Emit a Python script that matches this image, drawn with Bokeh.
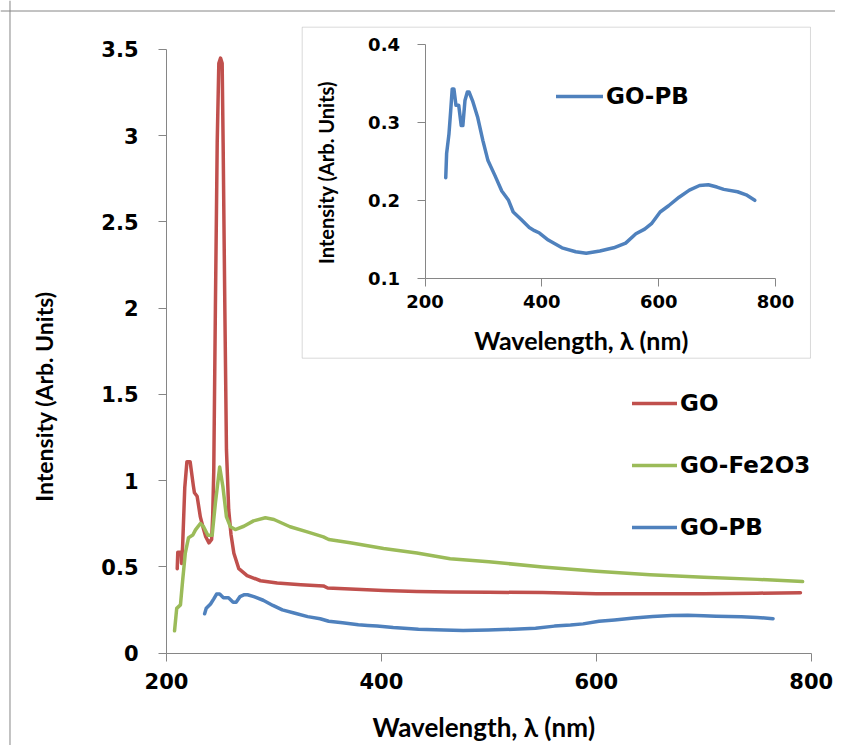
from bokeh.plotting import figure
from bokeh.models import Range1d, LinearAxis, FixedTicker, Legend, LegendItem, BoxAnnotation, Span
from bokeh.embed import file_html
from bokeh.resources import INLINE

# ---------------- data ----------------
go_x = [210, 210.5, 213.5, 214, 215, 217, 219, 222, 225, 226, 228.5, 231.5, 234, 236.5, 239.5,
        242, 243, 244, 245.5, 247.2, 248.7, 250.3, 251.8, 252.7, 254.3, 255.8, 257.9, 260, 262.7,
        267.3, 275, 287.5, 303, 325, 346, 350, 371, 402, 433, 464, 500, 550, 600, 650, 700, 750, 790]
go_y = [0.49, 0.585, 0.585, 0.52, 0.62, 0.96, 1.11, 1.11, 0.97, 0.93, 0.91, 0.79, 0.73, 0.675, 0.64,
        0.66, 0.8, 1.06, 2.0, 2.96, 3.42, 3.45, 3.42, 2.96, 2.0, 1.18, 0.83, 0.69, 0.58,
        0.49, 0.45, 0.42, 0.407, 0.397, 0.39, 0.378, 0.372, 0.364, 0.358, 0.355, 0.353, 0.352, 0.345,
        0.345, 0.345, 0.348, 0.35]

fe_x = [207.5, 209.5, 213, 215, 217.5, 220.5, 224.5, 227, 231.5, 234.5, 238.5, 242.5, 245.5, 249.5,
        252.5, 255.8, 259.5, 264, 272, 281, 292, 300, 315, 331, 346, 351, 371, 402, 433, 464, 500,
        550, 600, 650, 700, 750, 792]
fe_y = [0.13, 0.26, 0.28, 0.42, 0.58, 0.67, 0.685, 0.715, 0.752, 0.733, 0.684, 0.684, 0.87, 1.08,
        0.965, 0.79, 0.733, 0.717, 0.736, 0.767, 0.785, 0.775, 0.733, 0.703, 0.674, 0.659, 0.64,
        0.607, 0.581, 0.548, 0.53, 0.50, 0.475, 0.455, 0.44, 0.428, 0.415]

pb_x = [235.5, 237, 241, 244, 246.6, 249.5, 253, 257.7, 262, 264.8, 268.4, 272.5, 275.4, 281.3, 290,
        299, 307.8, 319.6, 331.4, 343, 351, 363.8, 378.5, 387.4, 396, 411, 434.5, 458, 476, 499.4,
        523, 543.5, 561, 576, 587.7, 602.5, 617, 635, 652.6, 670, 685, 699.7, 711.5, 735, 749.8, 764.5]
pb_y = [0.229, 0.26, 0.285, 0.315, 0.343, 0.343, 0.322, 0.322, 0.296, 0.296, 0.328, 0.339, 0.339,
        0.328, 0.307, 0.277, 0.251, 0.232, 0.212, 0.2, 0.185, 0.176, 0.165, 0.161, 0.158, 0.149,
        0.139, 0.134, 0.132, 0.135, 0.139, 0.145, 0.157, 0.163, 0.17, 0.185, 0.193, 0.204, 0.213,
        0.219, 0.22, 0.217, 0.214, 0.211, 0.207, 0.2]

series_names = ["GO", "GO-Fe2O3", "GO-PB"]

x_ticks = [200, 400, 600, 800]
y_ticks = [0, 0.5, 1, 1.5, 2, 2.5, 3, 3.5]
y_tick_labels = ["0", "0.5", "1", "1.5", "2", "2.5", "3", "3.5"]
inset_x_ticks = [200, 400, 600, 800]
inset_y_ticks = [0.1, 0.2, 0.3, 0.4]
inset_y_tick_labels = ["0.1", "0.2", "0.3", "0.4"]

x_title = "Wavelength, \u03bb (nm)"
y_title = "Intensity (Arb. Units)"

# ---------------- styles ----------------
RED = "#C0504D"
GREEN = "#9BBB59"
BLUE = "#4F81BD"
AX = "#868686"
LW = 3.5

W, H = 835, 745

p = figure(width=W, height=H, output_backend="svg", toolbar_location=None, title=None,
           x_axis_type=None, y_axis_type=None,
           x_range=Range1d(45.51, 822.62), y_range=Range1d(-0.5351, 3.7840),
           min_border=0)
p.outline_line_color = None
p.background_fill_color = "white"
p.border_fill_color = "white"

p.extra_x_ranges = {"ix": Range1d(-526.67, 902.7)}
p.extra_y_ranges = {"iy": Range1d(-0.49987, 0.45649)}


def style_axis(ax, tick_size, standoff):
    ax.axis_line_color = AX
    ax.axis_line_width = 1
    ax.major_tick_line_color = AX
    ax.major_tick_out = 8
    ax.major_tick_in = 0
    ax.minor_tick_line_color = None
    ax.major_label_text_font = "DejaVu Sans"
    ax.major_label_text_font_style = "bold"
    ax.major_label_text_font_size = f"{tick_size}px"
    ax.major_label_text_color = "black"
    ax.major_label_standoff = standoff


def title_axis(text, size, standoff, **kw):
    ax = LinearAxis(ticker=FixedTicker(ticks=[]), axis_label=text, **kw)
    ax.axis_line_color = None
    ax.major_tick_line_color = None
    ax.minor_tick_line_color = None
    ax.major_tick_out = 0
    ax.major_tick_in = 0
    ax.major_label_standoff = 0
    ax.axis_label_text_font = "Lato"
    ax.axis_label_text_font_style = "bold"
    ax.axis_label_text_font_size = f"{size}px"
    ax.axis_label_text_color = "black"
    ax.axis_label_standoff = standoff
    return ax


# main axes
xa = LinearAxis(fixed_location=0, bounds=(200, 800), ticker=FixedTicker(ticks=x_ticks))
style_axis(xa, 21, 12)
p.add_layout(xa, "below")
p.add_layout(title_axis(x_title, 26, 57, fixed_location=0, bounds=(200, 790)), "below")

ya = LinearAxis(fixed_location=200, bounds=(0, 3.5), ticker=FixedTicker(ticks=y_ticks),
                major_label_overrides={t: l for t, l in zip(y_ticks, y_tick_labels)})
style_axis(ya, 21, 20)
p.add_layout(ya, "left")
p.add_layout(title_axis(y_title, 23, 109, fixed_location=200, bounds=(0, 2.976)), "left")

# outer chart border (top and left edges)
p.add_layout(Span(location=3.7231, dimension="width", line_color=AX, line_width=1))
p.add_layout(Span(location=54.35, dimension="height", line_color=AX, line_width=1))

# main curves
r_go = p.line(go_x, go_y, line_color=RED, line_width=LW, line_join="round", line_cap="round")
r_fe = p.line(fe_x, fe_y, line_color=GREEN, line_width=LW, line_join="round", line_cap="round")
r_pb = p.line(pb_x, pb_y, line_color=BLUE, line_width=LW, line_join="round", line_cap="round")

# inset frame
p.add_layout(BoxAnnotation(left=326.29, right=799.35, top=3.6293, bottom=1.7103,
                           fill_color=None, line_color=AX, line_width=1))

# inset curve + axes
r_pb_in = p.line(pb_x, pb_y, x_range_name="ix", y_range_name="iy", line_color=BLUE, line_width=LW,
                 line_join="round", line_cap="round")

ixa = LinearAxis(x_range_name="ix", y_range_name="iy", fixed_location=0.1, bounds=(200, 800),
                 ticker=FixedTicker(ticks=inset_x_ticks))
style_axis(ixa, 18, 9)
p.add_layout(ixa, "below")
p.add_layout(title_axis(x_title, 25, 46, x_range_name="ix", y_range_name="iy",
                        fixed_location=0.1, bounds=(200, 732.4)), "below")

iya = LinearAxis(x_range_name="ix", y_range_name="iy", fixed_location=200, bounds=(0.1, 0.4),
                 ticker=FixedTicker(ticks=inset_y_ticks),
                 major_label_overrides={t: l for t, l in zip(inset_y_ticks, inset_y_tick_labels)})
style_axis(iya, 18, 17)
p.add_layout(iya, "left")
p.add_layout(title_axis(y_title, 20, 88, x_range_name="ix", y_range_name="iy",
                        fixed_location=200, bounds=(0.1, 0.3714)), "left")


def make_legend(items, loc, gw):
    lg = Legend(items=items, location=loc, orientation="vertical")
    lg.label_text_font = "DejaVu Sans"
    lg.label_text_font_style = "bold"
    lg.label_text_font_size = "23px"
    lg.label_text_color = "black"
    lg.glyph_width = gw
    lg.glyph_height = 26
    lg.label_height = 26
    lg.label_standoff = 3
    lg.spacing = 36
    lg.padding = 0
    lg.margin = 0
    lg.border_line_color = None
    lg.background_fill_alpha = 0
    return lg


main_legend = make_legend([LegendItem(label=series_names[0], renderers=[r_go]),
                           LegendItem(label=series_names[1], renderers=[r_fe]),
                           LegendItem(label=series_names[2], renderers=[r_pb])], (632, 205), 45)
p.add_layout(main_legend)

inset_legend = make_legend([LegendItem(label=series_names[2], renderers=[r_pb_in])], (556, 636), 47)
p.add_layout(inset_legend)

open("out.html", "w").write(file_html(p, INLINE))
